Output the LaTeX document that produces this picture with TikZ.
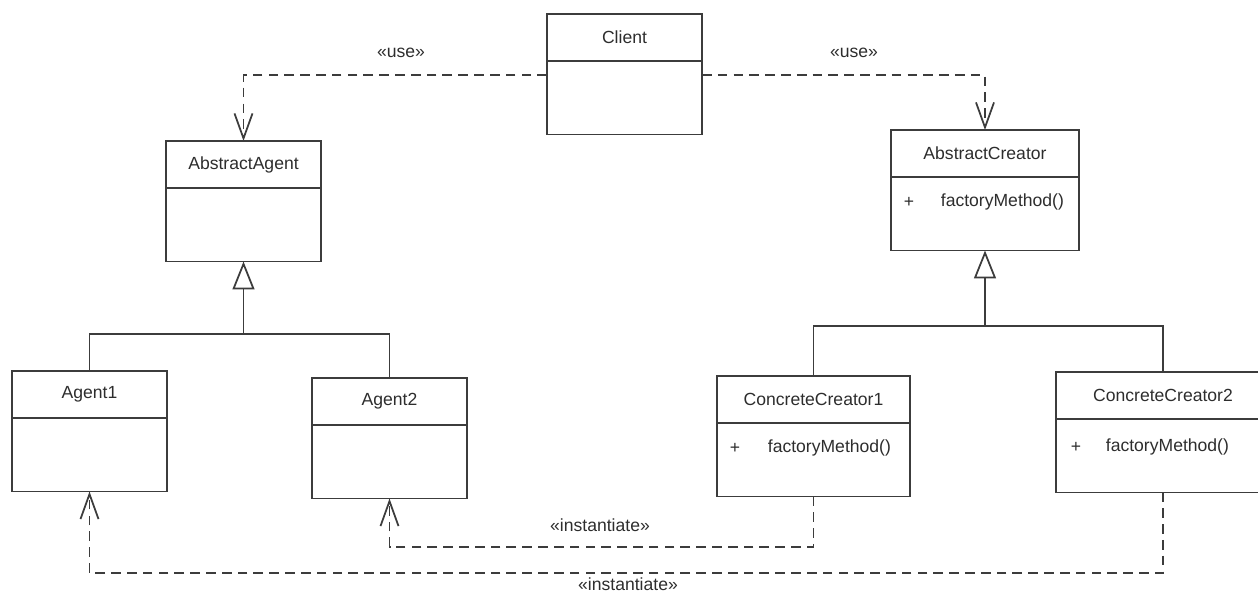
\documentclass[tikz,border=0pt]{standalone}
\usepackage{fontspec}
\setmainfont{Liberation Sans}
\usetikzlibrary{arrows.meta,positioning}
\definecolor{linegray}{RGB}{60,60,60}
\definecolor{textgray}{RGB}{45,45,45}
\tikzset{
every picture/.style={line width=1pt, x=0.02cm, y=-0.02cm},
%%%%%%%%%%  Class boxes
classhead/.style={rectangle, draw=linegray, inner sep=0pt, outer sep=0pt,
                  minimum height=0.94cm, minimum width=#1, text=textgray,
                  font=\fontsize{10}{12}\selectfont},
classbody/.style={rectangle, draw=linegray, inner sep=0pt, outer sep=0pt,
                  minimum height=1.47cm, minimum width=#1},
member/.style={inner sep=0pt, text=textgray, font=\fontsize{10}{12}\selectfont},
stereo/.style={inner sep=0pt, text=textgray, font=\fontsize{10}{12}\selectfont},
%%%%%%%%%%  Connectors
depend/.style={draw=linegray, dash pattern=on 5.5pt off 3.5pt,
               -{Straight Barb[length=0.5cm,width=0.36cm]}},
inherit/.style={draw=linegray, -{Triangle[open,length=0.56cm,width=0.44cm]}},
tree/.style={draw=linegray}
}
\begin{document}
\begin{tikzpicture}
\useasboundingbox (0,0) rectangle (1258,593);
%%client
\node[classhead=3.1cm] (clientH) at (624.5,37.5) {Client};
\node[classbody=3.1cm, below=0pt of clientH] (clientB) {};
%%abstract classes
\node[classhead=3.1cm] (absagentH) at (243.5,164.5) {AbstractAgent};
\node[classbody=3.1cm, below=0pt of absagentH] (absagentB) {};
\node[classhead=3.76cm] (abscreatorH) at (985,153.5) {AbstractCreator};
\node[classbody=3.76cm, below=0pt of abscreatorH] (abscreatorB) {};
%%agents
\node[classhead=3.1cm] (agent1H) at (89.5,394.5) {Agent1};
\node[classbody=3.1cm, below=0pt of agent1H] (agent1B) {};
\node[classhead=3.1cm] (agent2H) at (389.5,401.5) {Agent2};
\node[classbody=3.1cm, below=0pt of agent2H] (agent2B) {};
%%concrete creators
\node[classhead=3.86cm] (cc1H) at (813.5,399.5) {ConcreteCreator1};
\node[classbody=3.86cm, below=0pt of cc1H] (cc1B) {};
\node[classhead=4.28cm] (cc2H) at (1163,395.5) {ConcreteCreator2};
\node[classbody=4.28cm, below=0pt of cc2H] (cc2B) {};
%%operations
\node[member] (acplus) at (909,202) {+};
\node[member, anchor=west] (acop) at (940,202) {factoryMethod()};
\node[member] (cc1plus) at (735,448) {+};
\node[member, anchor=west] (cc1op) at (767,448) {factoryMethod()};
\node[member] (cc2plus) at (1076,447) {+};
\node[member, anchor=west] (cc2op) at (1105,447) {factoryMethod()};
%%use dependencies
\coordinate (useY) at (0,75);
\draw[depend] (clientB.west |- useY) -| (absagentH.north);
\draw[depend] (clientB.east |- useY) -| (abscreatorH.north);
\node[stereo] (useL) at (401,53) {«use»};
\node[stereo] (useR) at (854,53) {«use»};
%%generalizations
\coordinate (genL) at (243.5,334);
\draw[tree] (agent1H.north) |- (genL) -| (agent2H.north);
\draw[inherit] (genL) -- (absagentB.south);
\coordinate (genR) at (985,326);
\draw[tree] (cc1H.north) |- (genR) -| (cc2H.north);
\draw[inherit] (genR) -- (abscreatorB.south);
%%instantiate dependencies
\coordinate (instA) at (0,547);
\draw[depend] (cc1B.south) -- (cc1B.south |- instA) -| (agent2B.south);
\node[stereo] (instLA) at (600,525) {«instantiate»};
\coordinate (instB) at (0,573);
\draw[depend] (cc2B.south) -- (cc2B.south |- instB) -| (agent1B.south);
\node[stereo] (instLB) at (628,584) {«instantiate»};
\end{tikzpicture}
\end{document}
